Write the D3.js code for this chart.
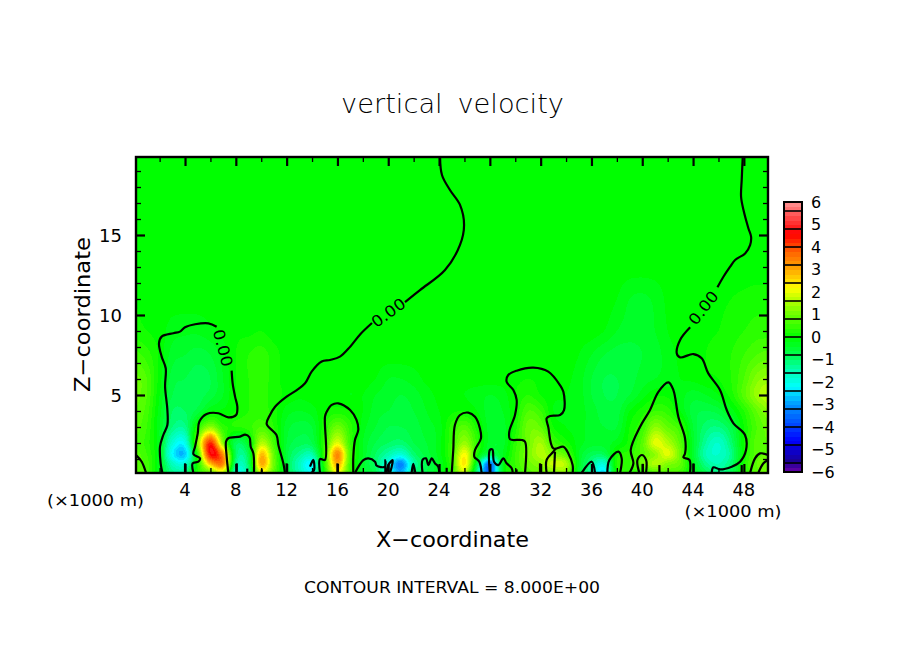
<!DOCTYPE html>
<html><head><meta charset="utf-8">
<script src="https://cdn.jsdelivr.net/npm/d3@7/dist/d3.min.js"></script>
<style>
html,body{margin:0;padding:0;background:#fff}
svg{display:block}
text{font-family:"DejaVu Sans",sans-serif;fill:#000}
</style></head><body>
<svg id="c" width="904" height="654"></svg>
<script>
// ---------- data ----------
const titleText = "vertical velocity";
const xLabel = "X\u2212coordinate";
const zLabel = "Z\u2212coordinate";
const footerText = "CONTOUR INTERVAL = 8.000E+00";
const unitText = "(\u00d71000 m)";
const xMajorTicks = [4,8,12,16,20,24,28,32,36,40,44,48];
const xMinorTicks = [2,6,10,14,18,22,26,30,34,38,42,46];
const zMajorTicks = [5,10,15];
const zMinorTicks = [1,2,3,4,6,7,8,9,11,12,13,14,16,17,18,19];
const xDomain = [0.14,49.9];
const zDomain = [0.125,19.875];
const barTicks = [6,5,4,3,2,1,0,-1,-2,-3,-4,-5,-6];
const barBreaks = [5.6,4.8,4,3.2,2.4,1.6,0.8,0,-0.8,-1.6,-2.4,-3.2,-4,-4.8,-5.6];
const colorValues = [-6,-5.5,-4.6,-3.8,-3,-2.2,-1.4,-0.8,0,1.2,1.8,2.2,3,3.8,4.6,5.4,6];
const colorHex = ["#6a00a8","#1a0096","#0000ff","#0050ff","#0096ff","#00ffff","#00ffaa","#00ff50","#00ff00","#80ff00","#c8ff00","#ffff00","#ffaa00","#ff6400","#ff0000","#ff5050","#ff9696"];

// field columns sit at x = 0,1,...,50; rows at these heights
const fieldZ = [0.15,0.7,1.3,2,3,4,5,6,7.5,9,11,13,20];
const fieldRow00 = [.8,.6,-.3,-1.2,-1.2,.3,1,1.8,-1.8,-1.2, 2,.8,-.6,-1.5,-2,.3,2.2,.5,-.4,-.8, -1.8,-2.8,-1.2,-.7,-.3,.4,1.8,-1.2,-3.6,-.3, .4,.8,1,1.2,1.2,-.4,-1.4,-2.4,.2,.4, .4,.8,.8,.6,-.2,-.8,-1.2,-.8,.2,.8,1];
const fieldRow01 = [.8,.6,-.3,-1.6,-1.8,.2,2.8,3.4,-1.2,-.9, 3,1,-.6,-1.6,-2.2,.4,3,.6,-.4,-1, -2,-3.2,-1.4,-.8,-.3,.5,2.4,-.6,-3.4,-.3, .5,1,1.3,1.8,1.6,-.3,-1.2,-1.8,.3,.5, 1,1.6,1.2,.9,-.3,-1.2,-1.5,-1,.2,.9,1];
const fieldRow02 = [.8,.5,-.3,-2.2,-2.6,.4,4.6,3.2,-.9,-.7, 2.8,.9,-.6,-1.2,-1.4,.6,3.4,.7,-.3,-.9, -1.4,-1.8,-1,-.6,-.2,.6,2.2,.2,-.8,-.3, .5,1.1,1.6,1.2,.8,-.3,-.8,-.8,.2,.4, .8,1.3,2,1,-.4,-1.5,-1.7,-1.2,.1,.8,.9];
const fieldRow03 = [.7,.4,-.3,-1.8,-2,1.2,4.3,1.2,-.8,-.3, 1.6,.6,-.5,-.8,-.7,.5,2,.5,-.3,-.7, -.9,-1,-.7,-.5,-.2,.5,1.4,.4,-.4,-.4, .4,1,1.5,.6,.2,-.2,-.4,-.4,-.2,.2, .8,2,1.6,.8,-.4,-1.3,-1.7,-1,.1,.8,.9];
const fieldRow04 = [.8,.5,-.3,-1.1,-1.2,.3,1.3,.4,.3,.4, .7,.3,-.4,-.6,-.5,.3,1,.4,-.2,-.5, -.7,-.7,-.6,-.4,-.2,.4,.8,.2,-.4,-.4, .2,1,.9,.1,-.1,-.2,-.4,-.5,-.5,.1, .5,1.3,.9,.5,-.5,-1,-1.1,-.7,.1,.7,1];
const fieldRow05 = [.9,.6,-.2,-.9,-.9,-.6,-.1,-.05,.1,.3, .4,.2,-.2,-.3,-.2,.1,.2,.1,-.1,-.4, -.5,-.6,-.5,-.3,-.1,.05,.1,-.1,-.4,-.3, .1,.7,.5,-.1,-.1,-.2,-.4,-.6,-.6,-.1, .2,.5,.4,-.1,-.6,-.7,-.6,-.2,.3,.9,1.3];
const fieldRow06 = [1,.7,-.1,-.7,-.8,-.8,-.6,-.3,.1,.3, .4,.2,.05,-.05,0,0,-.05,-.1,-.1,-.3, -.4,-.5,-.4,-.2,-.05,-.05,-.1,-.2,-.3,-.2, .1,.3,.1,-.05,-.1,-.2,-.5,-.7,-.7,-.5, -.2,.05,.05,-.2,-.4,-.3,-.1,.2,.8,1.4,1.7];
const fieldRow07 = [1,.7,0,-.6,-.7,-.8,-.7,-.3,.1,.3, .4,.2,0,0,0,0,0,0,0,-.1, -.3,-.3,-.2,-.05,0,0,0,0,0,0, .05,.1,.05,0,-.05,-.2,-.5,-.7,-.7,-.6, -.4,-.3,-.2,-.1,-.05,.05,.1,.3,.7,1.2,1.4];
const fieldRow08 = [.6,.4,.05,-.4,-.5,-.6,-.5,-.2,.1,.3, .4,.2,0,0,0,0,0,0,0,0, 0,0,0,0,0,0,0,0,0,0, 0,0,0,0,0,-.1,-.3,-.5,-.6,-.6, -.5,-.4,-.2,-.05,.05,.1,.2,.3,.5,.7,.8];
const fieldRow09 = [.2,.1,0,-.2,-.25,-.25,-.15,-.05,.05,.05, .1,0,0,0,0,0,0,0,0,0, 0,0,0,0,0,0,0,0,0,0, 0,0,0,0,0,0,0,-.1,-.3,-.4, -.4,-.3,-.1,0,0,.05,.1,.2,.3,.4,.4];
const fieldRow10 = [.1,0,0,0,0,0,0,0,0,0, 0,0,0,0,0,0,0,0,0,0, 0,0,0,0,0,0,0,0,0,0, 0,0,0,0,0,0,0,0,-.1,-.3, -.35,-.25,-.05,0,0,0,.05,.1,.15,.2,.2];
const fieldRow11 = [0,0,0,0,0,0,0,0,0,0, 0,0,0,0,0,0,0,0,0,0, 0,0,0,0,0,0,0,0,0,0, 0,0,0,0,0,0,0,0,0,0, 0,0,0,0,0,0,0,0,0,0,0];
const fieldRow12 = [0,0,0,0,0,0,0,0,0,0, 0,0,0,0,0,0,0,0,0,0, 0,0,0,0,0,0,0,0,0,0, 0,0,0,0,0,0,0,0,0,0, 0,0,0,0,0,0,0,0,0,0,0];
const fieldRows = [fieldRow00,fieldRow01,fieldRow02,fieldRow03,fieldRow04,fieldRow05,fieldRow06,fieldRow07,fieldRow08,fieldRow09,fieldRow10,fieldRow11,fieldRow12];

// zero contour, [x, z]
const lineLeftDome = [[2.22,.13],[2.08,.73],[2.03,1.77],[2.29,2.5],[2.61,3.13],[2.61,4.07],[2.43,5.52],[2.48,6.67],[2.16,7.4],[1.95,8.23],[2.16,8.65],[3.08,8.86],[3.6,8.96],[4,9.23],[4.79,9.42],[5.84,9.48],[6.49,9.27]];
const lineLeftDome2 = [[7.67,6.52],[7.75,5.73],[7.94,4.9],[8.12,4.27],[8.02,3.75],[7.41,3.6],[6.63,3.86],[5.7,3.81],[5.13,3.34],[5,2.6],[4.79,1.77],[4.66,1.31],[5.18,1.04],[5.05,.83],[4.6,.73],[4.66,.13]];
const lineCorner = [[.14,1.25],[.59,.83],[.93,.13]];
const lineCell8 = [[7.41,.13],[7.28,1.15],[7.23,2.09],[7.41,2.3],[8.33,2.4],[8.73,2.52],[9.07,2.36],[9.17,1.77],[9.38,1.35],[9.43,.13]];
const lineMiddleUpper = [[24.08,19.87],[24.23,18.75],[24.86,17.81],[25.65,16.88],[25.97,15.63],[25.65,14.38],[24.47,12.81],[22.5,11.56],[21.32,10.81]];
const lineMiddleLower = [[18.72,9.5],[17.8,8.8],[17,8.02],[16.2,7.4],[15.42,7.19],[14.76,7.09],[13.97,6.46],[13.45,5.73],[12.8,5.3],[12,4.9],[11.09,4.27],[10.69,3.75],[10.43,3.19],[11.2,2.5],[11.35,1.88],[11.74,.73],[11.87,.13]];
const lineDome16 = [[14.63,.13],[14.63,1],[15.02,.94],[15.02,3.65],[15.16,3.96],[15.55,4.38],[16.07,4.48],[17,4.06],[17.5,3.44],[17.64,2.81],[17.38,2.19],[17.25,1.14],[17.25,.13]];
const lineWiggle18 = [[17.38,.13],[18.04,.93],[18.43,1.04],[18.96,.83],[19.09,.58],[19.74,.52],[19.77,.93],[19.77,.13]];
const lineBlob20 = [[19.87,.13],[20,.62],[20.35,.93],[20.27,.52],[20.14,.13]];
const lineOval22 = [[21.84,.13],[21.97,.69],[22.13,.13]];
const lineWiggle23 = [[22.7,.13],[22.7,.94],[22.97,1.04],[23.16,.62],[23.42,1.04],[23.68,.73],[23.94,.52],[24.02,.13]];
const lineDome26 = [[25,.13],[25.12,1.56],[25.25,3.12],[25.65,3.75],[26.3,3.9],[26.83,3.64],[27.22,2.91],[27.3,2.29],[26.83,1.56],[26.78,1.14],[27.17,.83],[27.35,.13]];
const lineWiggle28 = [[28,.13],[28,1.56],[28.2,1.6],[28.33,.83],[28.67,.62],[29.06,1.04],[29.32,.73],[29.72,.42],[29.8,.13]];
const lineDome31 = [[30.77,.13],[30.77,2.08],[30.5,2.19],[29.59,2.23],[29.53,2.71],[29.98,3.75],[30.11,4.69],[29.85,5.31],[29.32,5.83],[29.45,6.25],[30.11,6.52],[31.42,6.71],[32.6,6.46],[33.52,5.62],[33.79,5.2],[33.84,4.06],[33.53,3.75],[32.74,3.69],[32.47,3.54],[32.6,3],[33,1.66],[33.79,1.77],[34.18,1.35],[34.52,.62],[34.52,.13]];
const lineCell33 = [[33.2,1.66],[33,1.45],[32.47,.94],[32.47,.13]];
const lineCell33b = [[33.13,1.45],[33.05,.13]];
const lineCap35 = [[35.23,.13],[36.02,.83],[36.28,.13]];
const lineCap37 = [[37.25,.13],[37.41,.94],[38.12,1.46],[38.38,1.04],[38.25,.13]];
const lineTriangle = [[38.99,.13],[39.3,.73],[39.09,1.56],[39.83,3.02],[40.61,4.06],[41.27,5.2],[42.06,5.79],[42.45,5.31],[42.84,3.64],[43.37,2.29],[43.37,1.35],[43.24,1.1],[43.71,.94],[43.76,.13]];
const lineOval40 = [[39.77,.13],[39.62,.94],[39.96,1.25],[40.3,.94],[40.3,.13]];
const lineRightUpper = [[47.91,19.87],[47.83,18.44],[47.78,17.39],[47.97,16.56],[48.36,15.41],[48.57,14.89],[48.49,14.37],[48.1,13.85],[47.31,13.44],[46.92,13.02],[46.39,12.39],[45.92,11.73]];
const lineRightLower = [[43.77,9.23],[42.98,8.44],[42.72,7.6],[42.98,7.35],[44.03,7.56],[44.68,7.29],[45.2,6.35],[46.12,5.31],[46.65,4.06],[47.18,3.23],[48.09,2.5],[48.17,1.56],[47.7,.83],[47.04,.52],[46.13,.35],[45.6,.48],[45.47,.13]];
const lineRightCell = [[48.49,.13],[48.88,1.04],[49.27,1.35],[49.9,1.25]];
const lineRightCell2 = [[49.14,.13],[49.54,.73],[49.9,.94]];
const lineBlob14 = [[13.84,.52],[14.1,.94],[14.16,.31],[13.95,.13]];
const spikes = [[4,.73],[8.07,.73],[8.9,.4],[10.04,.35],[12,.73],[16,.73],[24.6,.45],[30.1,.35],[31.95,.73],[40.04,.7],[41.35,.62],[44.03,.73],[47.83,.62]];
const contourLines = [lineLeftDome,lineLeftDome2,lineCorner,lineCell8,lineMiddleUpper,lineMiddleLower,lineDome16,lineWiggle18,lineBlob20,lineOval22,lineWiggle23,lineDome26,lineWiggle28,lineDome31,lineCell33,lineCell33b,lineCap35,lineCap37,lineTriangle,lineOval40,lineRightUpper,lineRightLower,lineRightCell,lineRightCell2,lineBlob14];
const contourLabelX = [6.99,20.0,44.8];
const contourLabelZ = [7.94,10.15,10.45];
const contourLabelAngle = [75,-36,-52];
const contourLabelText = "0.00";

// ---------- drawing ----------
const svg = d3.select("#c");
const x = d3.scaleLinear().domain(xDomain).range([136,768]);
const z = d3.scaleLinear().domain(zDomain).range([473,157]);
const barY = d3.scaleLinear().domain([6,-6]).range([202,472]);
const color = d3.scaleLinear().domain(colorValues).range(colorHex).clamp(true);

svg.append("clipPath").attr("id","plot").append("rect")
  .attr("x",136).attr("y",157).attr("width",632).attr("height",316);

// Catmull-Rom reading of the table, for the rendering raster only
const rowIndex = d3.scaleLinear().domain(fieldZ).range(d3.range(fieldZ.length)).clamp(true);
const cr = (a,b,c,d,t)=>0.5*((2*b)+(-a+c)*t+(2*a-5*b+4*c-d)*t*t+(-a+3*b-3*c+d)*t*t*t);
const cl = (v,n)=>Math.max(0,Math.min(n,v));
function sample(px,pz){
  const cx = cl(px,50), cz = rowIndex(pz);
  const ix = Math.min(49,Math.floor(cx)), tx = cx-ix;
  const iz = Math.min(fieldZ.length-2,Math.floor(cz)), tz = cz-iz;
  const vals = [-1,0,1,2].map(dz=>{
    const r = fieldRows[cl(iz+dz,fieldZ.length-1)];
    return cr(r[cl(ix-1,50)],r[ix],r[ix+1],r[cl(ix+2,50)],tx);
  });
  return cr(vals[0],vals[1],vals[2],vals[3],tz);
}
const cell = 2, pad = 2;
const nx = 632/cell+2*pad, ny = 316/cell+2*pad;
const raster = new Float64Array(nx*ny);
for(let j=0;j<ny;j++)for(let i=0;i<nx;i++){
  const px = 136+(i-pad+.5)*cell, py = 157+(j-pad+.5)*cell;
  raster[j*nx+i] = sample(x.invert(px),z.invert(py));
}
const thresholds = d3.range(-61,61,2).map(v=>v/10);
const bands = d3.contours().size([nx,ny]).thresholds(thresholds)(raster);
const plot = svg.append("g").attr("clip-path","url(#plot)");
plot.append("rect").attr("x",136).attr("y",157).attr("width",632).attr("height",316).attr("fill",color(-6));
plot.append("g").attr("transform",`translate(${136-pad*cell},${157-pad*cell}) scale(${cell})`)
  .selectAll("path").data(bands).join("path")
  .attr("d",d3.geoPath()).attr("fill",d=>color(d.value+0.1))
  .attr("shape-rendering","crispEdges");

const line = d3.line().x(d=>x(d[0])).y(d=>z(d[1])).curve(d3.curveCatmullRom.alpha(0.5));
const lines = plot.append("g").attr("fill","none").attr("stroke","#000").attr("stroke-width",2.2).attr("stroke-linejoin","round");
lines.selectAll("path.c").data(contourLines).join("path").attr("class","c").attr("d",line);
lines.selectAll("path.s").data(spikes).join("path").attr("class","s").attr("d",d=>line([[d[0],.13],d]));

svg.append("g").selectAll("text").data(contourLabelX).join("text")
  .attr("transform",(d,i)=>`translate(${x(d)},${z(contourLabelZ[i])}) rotate(${contourLabelAngle[i]})`)
  .attr("text-anchor","middle").attr("dy","0.36em").attr("font-size",15.5)
  .attr("textLength",38).attr("lengthAdjust","spacingAndGlyphs")
  .text(contourLabelText);

// axes: four inward-ticking sides
function side(gen,scale,major,minor,len,lenMinor,tx){
  const g = svg.append("g").attr("transform",tx);
  g.call(gen(scale).tickValues(major).tickSize(-len).tickSizeOuter(0).tickFormat(""));
  g.selectAll(".tick line").attr("stroke-width",2.2);
  g.select(".domain").remove();
  const m = svg.append("g").attr("transform",tx);
  m.call(gen(scale).tickValues(minor).tickSize(-lenMinor).tickFormat(""));
  m.selectAll(".tick line").attr("stroke-width",1.3);
  m.select(".domain").remove();
}
side(d3.axisBottom,x,xMajorTicks,xMinorTicks,9,5,"translate(0,473)");
side(d3.axisTop,x,xMajorTicks,xMinorTicks,9,5,"translate(0,157)");
side(d3.axisLeft,z,zMajorTicks,zMinorTicks,9,5,"translate(136,0)");
side(d3.axisRight,z,zMajorTicks,zMinorTicks,9,5,"translate(768,0)");
svg.append("rect").attr("x",136).attr("y",157).attr("width",632).attr("height",316)
  .attr("fill","none").attr("stroke","#000").attr("stroke-width",2.4);

svg.append("g").selectAll("text").data(xMajorTicks).join("text")
  .attr("x",d=>x(d)).attr("y",496).attr("text-anchor","middle").attr("font-size",18).text(d=>d);
svg.append("g").selectAll("text").data(zMajorTicks).join("text")
  .attr("x",122).attr("y",d=>z(d)+6.5).attr("text-anchor","end").attr("font-size",18).text(d=>d);

// titles
function label(t,xp,yp,size,len,rot,weight){
  const s = svg.append("text").attr("text-anchor","middle").attr("font-size",size)
    .attr("textLength",len).attr("lengthAdjust","spacingAndGlyphs").text(t);
  if(weight) s.attr("font-weight",weight).style("word-spacing","6px");
  if(rot) s.attr("transform",`translate(${xp},${yp}) rotate(${rot})`);
  else s.attr("x",xp).attr("y",yp);
}
label(titleText,452.5,113,27,223,0,200);
label(xLabel,452.5,547,21,153);
label(zLabel,90,314.5,21,155,-90);
label(footerText,452,593,16,296);
label(unitText,95.5,506,16.5,97);
label(unitText,733,517,16.5,97);

// colour bar
const barSteps = d3.range(-60,60,2).map(v=>v/10);
const bar = svg.append("g");
bar.selectAll("rect").data(barSteps).join("rect")
  .attr("x",784).attr("width",18)
  .attr("y",d=>barY(d+0.2)).attr("height",d=>barY(d)-barY(d+0.2)+0.5)
  .attr("fill",d=>color(d+0.1)).attr("shape-rendering","crispEdges");
bar.selectAll("line").data(barBreaks).join("line")
  .attr("x1",784).attr("x2",802).attr("y1",d=>barY(d)).attr("y2",d=>barY(d))
  .attr("stroke","#000").attr("stroke-width",1.6);
bar.append("rect").attr("x",784).attr("y",202).attr("width",18).attr("height",270)
  .attr("fill","none").attr("stroke","#000").attr("stroke-width",2);
svg.append("g").selectAll("text").data(barTicks).join("text")
  .attr("x",811).attr("y",d=>barY(d)+5.5).attr("font-size",16)
  .text(d=>d<0?"\u2212"+(-d):d);
</script>
</body></html>
